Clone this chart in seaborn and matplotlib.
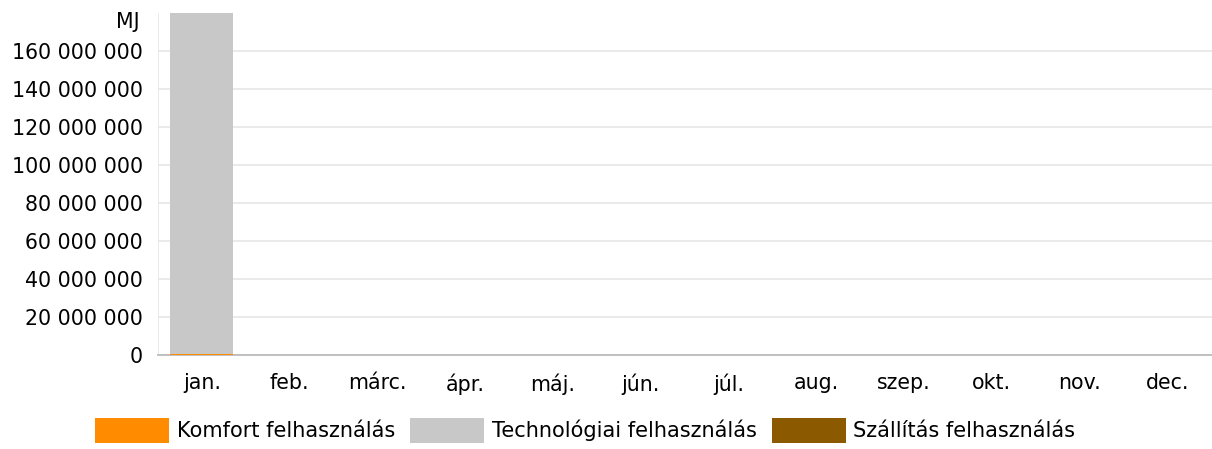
import matplotlib
matplotlib.use("Agg")
import matplotlib.pyplot as plt
import seaborn as sns
import pandas as pd
from matplotlib.patches import Patch

# chart data
months = ['jan.', 'feb.', 'márc.', 'ápr.', 'máj.', 'jún.', 'júl.', 'aug.', 'szep.', 'okt.', 'nov.', 'dec.']
komfort = [600000, 0, 0, 0, 0, 0, 0, 0, 0, 0, 0, 0]
technologiai = [185000000, 0, 0, 0, 0, 0, 0, 0, 0, 0, 0, 0]
szallitas = [0, 0, 0, 0, 0, 0, 0, 0, 0, 0, 0, 0]
series_names = ['Komfort felhasználás', 'Technológiai felhasználás', 'Szállítás felhasználás']
colors = ['#FF8C00', '#C8C8C8', '#8B5A00']
y_ticks = [0, 20000000, 40000000, 60000000, 80000000, 100000000, 120000000, 140000000, 160000000]

sns.set_style("white")
plt.rcParams['font.family'] = ['DejaVu Sans']

fig = plt.figure(figsize=(12.12, 4.49), dpi=100)
ax = fig.add_axes([158 / 1212, 1 - 355 / 449, (1212 - 158) / 1212, (355 - 13) / 449])

df = pd.DataFrame({'month': months, 'k': komfort, 't': technologiai, 's': szallitas})
bottom = [0] * len(months)
for col, name, c in zip(['k', 't', 's'], series_names, colors):
    sns.barplot(x=df['month'], y=df[col], bottom=bottom, color=c, width=0.72,
                ax=ax, saturation=1, linewidth=0, zorder=3)
    bottom = [b + v for b, v in zip(bottom, df[col])]

ax.set_ylim(0, 180000000)
ax.set_xlim(-0.5, 11.51)
ax.set_yticks(y_ticks)
ax.set_yticklabels([f"{v:,}".replace(",", " ") for v in y_ticks])
ax.yaxis.grid(True, color='#e6e6e6', linewidth=1.2, zorder=0)
ax.axvline(-0.5, color='#e6e6e6', linewidth=1.2, zorder=0)
ax.text(-0.017, 0.975, 'MJ', transform=ax.transAxes, ha='right', va='center',
        fontsize=14.8, color='#000000')
ax.set_xlabel('')
ax.set_ylabel('')
for s in ['top', 'right', 'left']:
    ax.spines[s].set_visible(False)
ax.spines['bottom'].set_color('#bbbbbb')
ax.spines['bottom'].set_linewidth(1.3)
ax.tick_params(axis='both', length=0, labelsize=14.8, colors='#000000')
ax.tick_params(axis='x', pad=13)
ax.tick_params(axis='y', pad=11)

handles = [Patch(facecolor=c, edgecolor='none') for c in colors]
fig.legend(handles, series_names, loc='lower center', bbox_to_anchor=(0.483, -0.028), ncol=3,
           frameon=False, fontsize=15, handlelength=3.55, handleheight=1.45,
           handletextpad=0.35, columnspacing=0.75, labelcolor='#000000')

fig.savefig('out.png', dpi=100)
